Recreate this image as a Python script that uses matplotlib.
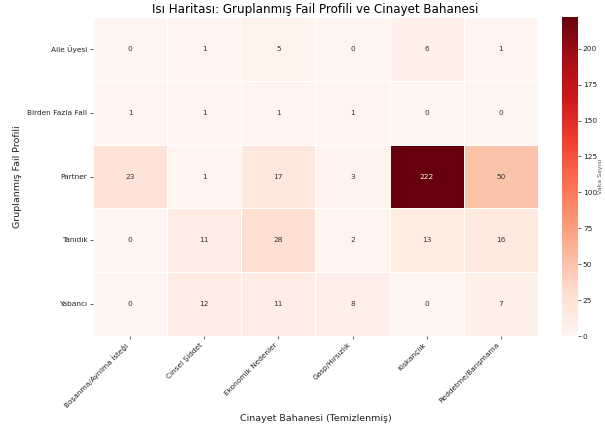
import matplotlib
matplotlib.use("Agg")
import matplotlib.pyplot as plt
import seaborn as sns
import numpy as np
import pandas as pd

rows = ["Aile Üyesi", "Birden Fazla Fail", "Partner", "Tanıdık", "Yabancı"]
cols = ["Boşanma/Ayrılma İsteği", "Cinsel Şiddet", "Ekonomik Nedenler",
        "Gasp/Hırsızlık", "Kıskançlık", "Reddetme/Barışmama"]
aile = [0, 1, 5, 0, 6, 1]
birden = [1, 1, 1, 1, 0, 0]
partner = [23, 1, 17, 3, 222, 50]
tanidik = [0, 11, 28, 2, 13, 16]
yabanci = [0, 12, 11, 8, 0, 7]

df = pd.DataFrame([aile, birden, partner, tanidik, yabanci], index=rows, columns=cols)

fig = plt.figure(figsize=(6.05, 4.32), dpi=100)
ax = fig.add_axes([0.1537, 0.222, 0.7355, 0.7386])
cax = fig.add_axes([0.929, 0.222, 0.0264, 0.7386])
sns.heatmap(df, ax=ax, cbar_ax=cax, cmap="Reds", annot=True, fmt="d",
            linewidths=0.5, linecolor="white",
            annot_kws={"fontsize": 5.3, "color": "#333333"},
            cbar_kws={"label": "Vaka Sayısı"})
# keep white annotation on dark cell
for t, v in zip(ax.texts, df.values.ravel()):
    if v > 150:
        t.set_color("white")
ax.set_title("Isı Haritası: Gruplanmış Fail Profili ve Cinayet Bahanesi", fontsize=8.6, pad=3)
ax.set_xlabel("Cinayet Bahanesi (Temizlenmiş)", fontsize=6.8, color="#222222")
ax.set_ylabel("Gruplanmış Fail Profili", fontsize=6.8, color="#222222")
ax.set_xticklabels(ax.get_xticklabels(), rotation=45, ha="right", fontsize=5.3)
ax.set_yticklabels(ax.get_yticklabels(), rotation=0, fontsize=5.3)
ax.tick_params(length=2, width=0.5, pad=2, colors="#222222")
cax.tick_params(labelsize=5.3, length=2, width=0.5, pad=1.5, colors="#222222")
cax.set_ylabel("Vaka Sayısı", fontsize=4.5, labelpad=0.5, color="#555555")
cax.set_yticks([0, 25, 50, 75, 100, 125, 150, 175, 200])
fig.savefig("out.png", dpi=100)
